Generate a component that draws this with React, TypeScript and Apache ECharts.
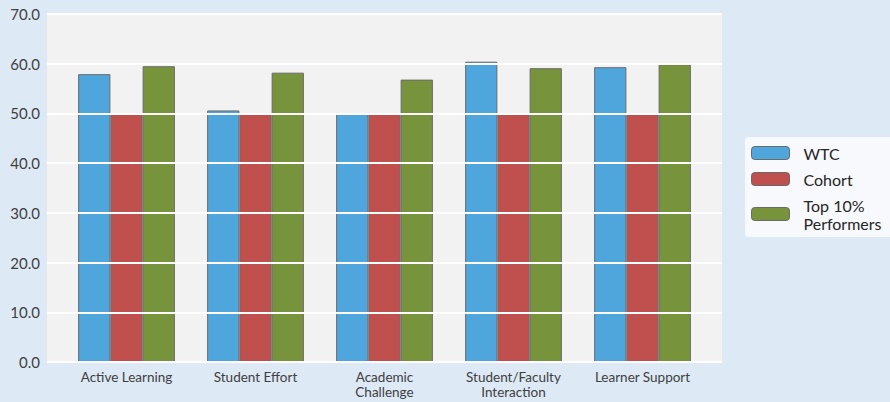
import React, { useEffect, useRef } from "react";
import * as echarts from "echarts";

const categories = [
  "Active Learning",
  "Student Effort",
  "Academic\nChallenge",
  "Student/Faculty\nInteraction",
  "Learner Support",
];
const seriesNames = ["WTC", "Cohort", "Top 10% Performers"];
const wtc = [57.9, 50.6, 50.0, 60.4, 59.3];
const cohort = [50.0, 50.0, 50.0, 50.0, 50.0];
const top10 = [59.5, 58.2, 56.8, 59.1, 59.9];
const yTicks = { min: 0, max: 70, interval: 10 };
const colors = ["#4ea6dc", "#c0504d", "#77933c"];

export default function App() {
  const ref = useRef<HTMLDivElement>(null);
  useEffect(() => {
    if (!ref.current) return;
    const chart = echarts.init(ref.current, null, { renderer: "svg" });
    const font = "Lato, 'Open Sans', sans-serif";
    const values = [wtc, cohort, top10];
    chart.setOption({
      animation: false,
      backgroundColor: "#dde9f5",
      textStyle: { fontFamily: font },
      grid: [
        {
          left: 47,
          right: 168,
          top: 14,
          bottom: 40,
          show: true,
          backgroundColor: "#f2f2f2",
          borderWidth: 0,
        },
        { left: 62, right: 183, top: 14, bottom: 40 },
      ],
      legend: {
        orient: "vertical",
        left: 745,
        top: 137,
        padding: [7, 60, 5, 6],
        itemGap: 8,
        itemWidth: 38,
        itemHeight: 13,
        backgroundColor: "#f7f9fc",
        borderRadius: 3,
        data: seriesNames,
        formatter: (n: string) => n.replace("10% ", "10%\n"),
        textStyle: {
          fontFamily: font,
          fontSize: 16,
          lineHeight: 18,
          color: "#262626",
          padding: [0, 0, 0, 9],
        },
        itemStyle: { borderColor: "#6a6a6a", borderWidth: 1 },
      },
      xAxis: [
        { type: "category", gridIndex: 0, show: false, data: categories },
        {
          type: "category",
          gridIndex: 1,
          data: categories,
          axisLine: { show: false },
          axisTick: { show: false },
          axisLabel: {
            fontFamily: font,
            fontSize: 13.5,
            lineHeight: 15,
            color: "#404040",
            margin: 7,
            interval: 0,
          },
        },
      ],
      yAxis: [
        {
          type: "value",
          gridIndex: 0,
          z: 5,
          min: yTicks.min,
          max: yTicks.max,
          interval: yTicks.interval,
          axisLine: { show: false },
          axisTick: { show: false },
          splitLine: { lineStyle: { color: "#ffffff", width: 2 } },
          axisLabel: {
            fontFamily: font,
            fontSize: 15,
            color: "#404040",
            margin: 7,
            formatter: (v: number) => v.toFixed(1),
          },
        },
        {
          type: "value",
          gridIndex: 1,
          min: yTicks.min,
          max: yTicks.max,
          interval: yTicks.interval,
          show: false,
          splitLine: { show: false },
        },
      ],
      series: seriesNames.map((name, i) => ({
        name,
        type: "bar",
        xAxisIndex: 1,
        yAxisIndex: 1,
        data: values[i],
        barGap: "0%",
        barCategoryGap: "25%",
        itemStyle: {
          color: colors[i],
          borderColor: "#6a6a6a",
          borderWidth: 1,
        },
      })),
    });
    return () => chart.dispose();
  }, []);
  return (
    <div
      ref={ref}
      style={{ position: "absolute", left: 0, top: 0, width: 890, height: 402 }}
    />
  );
}
